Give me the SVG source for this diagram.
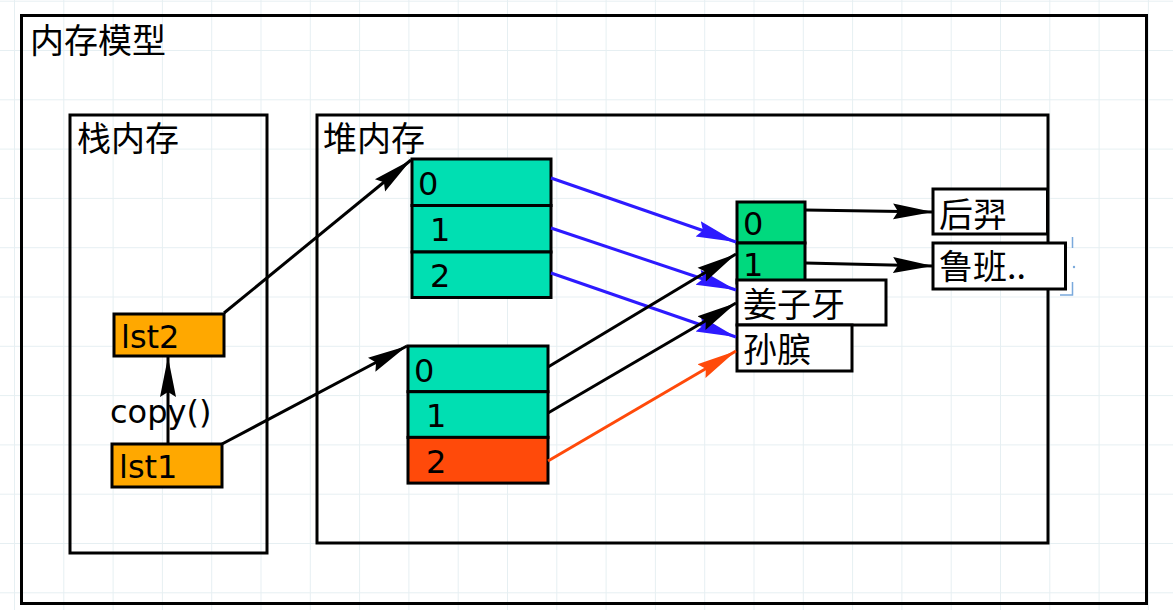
<svg xmlns="http://www.w3.org/2000/svg" width="1173" height="610" viewBox="0 0 1173 610">
<style>
.box{fill:none;stroke:#000;stroke-width:3}
.cell{stroke:#000;stroke-width:3}
.teal{fill:#00dfb2}
.red{fill:#ff4a0a}
.green{fill:#00d97e}
.orange{fill:#ffa800}
.white{fill:#fff}
.cjk{font-family:"Noto Sans CJK SC","Noto Sans CJK JP",sans-serif;font-size:34px;fill:#000}
.lat{font-family:"DejaVu Sans","Verdana",sans-serif;font-size:32px;fill:#000}
.ln{fill:none;stroke-width:3}
.k{stroke:#000}
.b{stroke:#2d1aff}
.r{stroke:#ff4a0a}
</style>
<defs>
<pattern id="grid" width="49.3" height="49.3" patternUnits="userSpaceOnUse" x="14" y="50">
<path d="M0.5,0 V49.3 M0,0.5 H49.3" stroke="#e6eff2" stroke-width="1" fill="none"/>
</pattern>
<marker id="ak" markerUnits="userSpaceOnUse" markerWidth="42" markerHeight="18" refX="40" refY="9" orient="auto"><path d="M0,1 L40,9 L0,17 L5,9 Z" fill="#000"/></marker>
<marker id="ab" markerUnits="userSpaceOnUse" markerWidth="42" markerHeight="18" refX="40" refY="9" orient="auto"><path d="M0,1 L40,9 L0,17 L5,9 Z" fill="#2d1aff"/></marker>
<marker id="ar" markerUnits="userSpaceOnUse" markerWidth="42" markerHeight="18" refX="40" refY="9" orient="auto"><path d="M0,1 L40,9 L0,17 L5,9 Z" fill="#ff4a0a"/></marker>
</defs>
<rect width="1173" height="610" fill="#fff"/>
<rect width="1173" height="610" fill="url(#grid)"/>

<g id="memory-model">
<rect class="box" x="21.5" y="15.5" width="1125" height="588"/>
<text class="cjk" x="30" y="53">内存模型</text>
</g>

<g id="stack">
<rect class="box" x="70" y="115" width="197" height="438"/>
<text class="cjk" x="77" y="151">栈内存</text>
</g>

<g id="heap">
<rect class="box" x="317" y="115" width="731" height="428"/>
<text class="cjk" x="323" y="151">堆内存</text>
</g>

<g id="lst2">
<rect class="cell orange" x="114" y="314" width="110" height="42"/>
<text class="lat" x="121" y="348">lst2</text>
</g>
<g id="lst1">
<rect class="cell orange" x="112" y="444" width="110" height="43"/>
<text class="lat" x="119" y="478">lst1</text>
</g>
<g id="copy-label">
<text class="lat" x="110" y="423">copy()</text>
</g>

<g id="array1">
<rect class="cell teal" x="412" y="159" width="139" height="46.5"/>
<rect class="cell teal" x="412" y="205.5" width="139" height="46.5"/>
<rect class="cell teal" x="412" y="252" width="139" height="45.5"/>
<text class="lat" x="418" y="195">0</text>
<text class="lat" x="430" y="241">1</text>
<text class="lat" x="430" y="287">2</text>
</g>

<g id="array2">
<rect class="cell teal" x="408" y="346" width="140" height="45.7"/>
<rect class="cell teal" x="408" y="391.7" width="140" height="45.7"/>
<rect class="cell red" x="408" y="437.4" width="140" height="45.7"/>
<text class="lat" x="414" y="382">0</text>
<text class="lat" x="426" y="427">1</text>
<text class="lat" x="426" y="473">2</text>
</g>

<g id="inner-list">
<rect class="cell green" x="737" y="202" width="68" height="41"/>
<rect class="cell green" x="737" y="243" width="68" height="40"/>
<text class="lat" x="743" y="235">0</text>
<text class="lat" x="743" y="276">1</text>
</g>

<g id="jiangziya">
<rect class="cell white" x="737" y="280" width="149" height="45"/>
<text class="cjk" x="743" y="317">姜子牙</text>
</g>
<g id="sunbin">
<rect class="cell white" x="737" y="325" width="115" height="46"/>
<text class="cjk" x="743" y="362">孙膑</text>
</g>
<g id="houyi">
<rect class="cell white" x="933" y="189" width="114.5" height="45"/>
<text class="cjk" x="939" y="227">后羿</text>
</g>
<g id="luban">
<rect class="cell white" x="933" y="243" width="132.5" height="46"/>
<text class="cjk" x="939" y="279">鲁班..</text>
</g>
<g id="selection">
<path d="M1072.5,237 V248 M1072.5,282 V295 H1060" stroke="#7aa9dc" stroke-width="1.5" fill="none"/>
<circle cx="1074" cy="267" r="1.2" fill="#7aa9dc"/>
</g>

<g id="connectors">
<line class="ln k" x1="224" y1="313" x2="411" y2="160" marker-end="url(#ak)"/>
<line class="ln k" x1="222" y1="444" x2="407" y2="346" marker-end="url(#ak)"/>
<line class="ln k" x1="168" y1="444" x2="168" y2="357" marker-end="url(#ak)"/>
<line class="ln b" x1="551" y1="178" x2="736" y2="242" marker-end="url(#ab)"/>
<line class="ln b" x1="551" y1="228" x2="736" y2="290" marker-end="url(#ab)"/>
<line class="ln b" x1="551" y1="273" x2="736" y2="337" marker-end="url(#ab)"/>
<line class="ln k" x1="548" y1="367" x2="736" y2="254" marker-end="url(#ak)"/>
<line class="ln k" x1="548" y1="413" x2="736" y2="303" marker-end="url(#ak)"/>
<line class="ln r" x1="548" y1="461" x2="736" y2="351" marker-end="url(#ar)"/>
<line class="ln k" x1="805" y1="210" x2="933" y2="212" marker-end="url(#ak)"/>
<line class="ln k" x1="805" y1="263" x2="933" y2="266" marker-end="url(#ak)"/>
</g>
</svg>
